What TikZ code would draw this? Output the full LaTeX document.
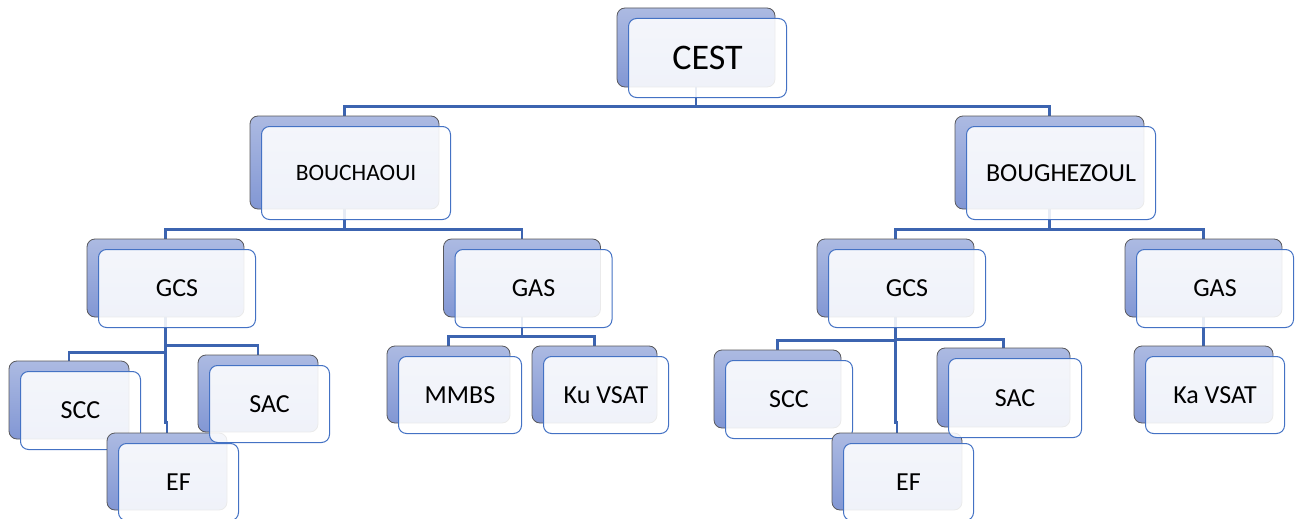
\documentclass[tikz,border=0pt]{standalone}
\usepackage{fontspec}
\setmainfont{Carlito}
\usepackage{tikz}
\usetikzlibrary{positioning, backgrounds}
\definecolor{bleulien}{RGB}{60,100,176}
\definecolor{bleucadre}{RGB}{68,114,196}
\definecolor{bleuhaut}{RGB}{172,186,226}
\definecolor{bleubas}{RGB}{130,151,212}
\definecolor{grisbord}{RGB}{88,88,92}
\tikzset{
	arriere/.style 2 args={draw=grisbord, line width=0.8pt, rounded corners=8pt, top color=bleuhaut, bottom color=bleubas, minimum width=#1, minimum height=#2, inner sep=0pt},
	avant/.style 2 args={draw=bleucadre, line width=1pt, rounded corners=8pt, fill=white, fill opacity=0.88, text opacity=1, minimum width=#1, minimum height=#2, inner sep=0pt, xshift=11.5pt, yshift=-10.5pt},
	lien/.style={draw=bleulien, line width=2.2pt},
	texte/.style={font=\fontsize{26pt}{30pt}\selectfont},
}

\begin{document}
\begin{tikzpicture}[x=1pt, y=-1pt]

	\useasboundingbox (0,0) rectangle (1301,519);

	% niveau 1
	\node[arriere={158pt}{79pt}] (cest) at (696,47.5) {};
	\node[avant={158pt}{79pt}, font=\fontsize{36pt}{40pt}\selectfont] (cestF) at (cest) {CEST};

	% niveau 2
	\node[arriere={189pt}{93pt}] (bouchaoui) at (344.5,162.5) {};
	\node[avant={189pt}{93pt}, font=\fontsize{23.5pt}{28pt}\selectfont] (bouchaouiF) at (bouchaoui) {BOUCHAOUI};
	\node[arriere={189pt}{93pt}] (boughezoul) at (1049.5,162.5) {};
	\node[avant={189pt}{93pt}, texte] (boughezoulF) at (boughezoul) {BOUGHEZOUL};

	% niveau 3
	\node[arriere={157pt}{78pt}] (gcsa) at (165.5,278) {};
	\node[avant={157pt}{78pt}, texte] (gcsaF) at (gcsa) {GCS};
	\node[arriere={157pt}{78pt}] (gasa) at (522,278) {};
	\node[avant={157pt}{78pt}, texte] (gasaF) at (gasa) {GAS};
	\node[arriere={157pt}{78pt}] (gcsb) at (895.5,278) {};
	\node[avant={157pt}{78pt}, texte] (gcsbF) at (gcsb) {GCS};
	\node[arriere={157pt}{78pt}] (gasb) at (1203.5,278) {};
	\node[avant={157pt}{78pt}, texte] (gasbF) at (gasb) {GAS};

	% niveau 4
	\node[arriere={123pt}{77pt}] (mmbs) at (448.5,384.5) {};
	\node[avant={123pt}{77pt}, texte] (mmbsF) at (mmbs) {MMBS};
	\node[arriere={125pt}{77pt}] (kuvsat) at (594.5,384.5) {};
	\node[avant={125pt}{77pt}, texte] (kuvsatF) at (kuvsat) {Ku VSAT};
	\node[arriere={139pt}{77pt}] (kavsat) at (1203.5,384.5) {};
	\node[avant={139pt}{77pt}, texte] (kavsatF) at (kavsat) {Ka VSAT};

	\node[arriere={120pt}{78pt}] (scca) at (69,400) {};
	\node[avant={120pt}{78pt}, texte] (sccaF) at (scca) {SCC};
	\node[arriere={120pt}{77pt}] (efa) at (167,471.5) {};
	\node[avant={120pt}{77pt}, texte] (efaF) at (efa) {EF};
	\node[arriere={120pt}{77pt}] (saca) at (258,393.5) {};
	\node[avant={120pt}{77pt}, texte] (sacaF) at (saca) {SAC};

	\node[arriere={127pt}{78pt}] (sccb) at (777.5,389) {};
	\node[avant={127pt}{78pt}, texte] (sccbF) at (sccb) {SCC};
	\node[arriere={130pt}{77pt}] (efb) at (897,471.5) {};
	\node[avant={130pt}{77pt}, texte] (efbF) at (efb) {EF};
	\node[arriere={133pt}{79pt}] (sacb) at (1003.5,387.5) {};
	\node[avant={133pt}{79pt}, texte] (sacbF) at (sacb) {SAC};

	% liaisons sous les cadres
	\begin{scope}[on background layer]
		\draw[lien] (cest.south) -- ++(0,19) -| (bouchaoui.north);
		\draw[lien] (cest.south) -- ++(0,19) -| (boughezoul.north);

		\draw[lien] (bouchaoui.south) -- ++(0,20) -| (gcsa.north);
		\draw[lien] (bouchaoui.south) -- ++(0,20) -| (gasa.north);
		\draw[lien] (boughezoul.south) -- ++(0,20) -| (gcsb.north);
		\draw[lien] (boughezoul.south) -- ++(0,20) -| (gasb.north);

		\draw[lien] (gcsa.south) -- ++(0,35) -| (scca.north);
		\draw[lien] (gcsa.south) -- ++(0,28) -| (saca.north);
		\draw[lien] (gcsa.south) -- ++(0,105) -| (efa.north);

		\draw[lien] (gasa.south) -- ++(0,19) -| (mmbs.north);
		\draw[lien] (gasa.south) -- ++(0,19) -| (kuvsat.north);

		\draw[lien] (gcsb.south) -- ++(0,23) -| (sccb.north);
		\draw[lien] (gcsb.south) -- ++(0,22) -| (sacb.north);
		\draw[lien] (gcsb.south) -- ++(0,105) -| (efb.north);

		\draw[lien] (gasb.south) -- (kavsat.north);
	\end{scope}

\end{tikzpicture}
\end{document}
